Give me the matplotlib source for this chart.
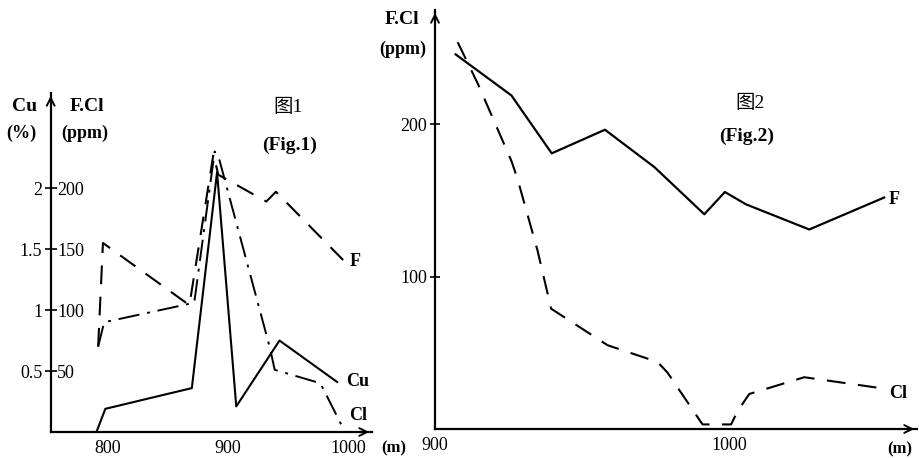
# 两个剖面图：图1 Cu, F, Cl 随深度变化；图2 F, Cl 随深度变化
import matplotlib
matplotlib.use("Agg")
import matplotlib.pyplot as plt

# ---- 数据 ----
# 图1
cu_x = [790.6, 798, 870, 891, 907, 943, 991]
cu_y = [0.0, 0.19, 0.36, 2.13, 0.21, 0.75, 0.41]          # Cu (%)
f1_x = [792, 796, 868, 888, 892, 932, 940, 996]
f1_y = [70, 155, 104, 228, 211, 189, 197, 141]           # F (ppm)
cl1_x = [792, 797, 872, 889, 893, 935, 939, 977, 997]
cl1_y = [70, 90, 106, 230, 223, 69, 51, 40, 1]           # Cl (ppm)

# 图2
f2_x = [907, 926, 939.7, 957.8, 974.6, 991.6, 998.6, 1005.8, 1027.3, 1052.8]
f2_y = [246, 219, 181, 196.5, 172, 141, 155.6, 147.5, 131, 152]
cl2_x = [907.7, 914.5, 926, 928.1, 934.9, 939.5, 958.7, 975.7, 979.1,
         991, 1000.7, 1003, 1006.9, 1025.6, 1052.8]
cl2_y = [254, 227, 176, 164, 117, 79, 55, 44, 37, 3, 3, 12, 23, 34, 26.5]

ppm_ticks1 = [50, 100, 150, 200]
cu_ticks1 = [0.5, 1, 1.5, 2]
cu_labels1 = ["0.5", "1", "1.5", "2"]
x_ticks1 = [800, 900, 1000]
ppm_ticks2 = [100, 200]
x_ticks2 = [900, 1000]

W, H = 919, 458
serif = ["Liberation Serif", "Noto Sans CJK SC", "DejaVu Sans"]
plt.rcParams["font.family"] = serif

fig = plt.figure(figsize=(W / 100, H / 100), dpi=100)


def box(left, top, right, bottom):
    return [left / W, 1 - bottom / H, (right - left) / W, (bottom - top) / H]


def px(x, y):
    return x / W, 1 - y / H


def label(x, y, s, size=13, bold=True):
    fig.text(*px(x, y), s, fontsize=size, fontweight="bold" if bold else "normal",
             ha="center", va="center")


def style_axes(ax):
    for s in ["top", "right"]:
        ax.spines[s].set_visible(False)
    for s in ["left", "bottom"]:
        ax.spines[s].set_linewidth(1.6)
    ax.set_facecolor("none")
    ax.annotate("", xy=(1.0, 0), xytext=(0.97, 0), xycoords="axes fraction",
                arrowprops=dict(arrowstyle="->", lw=1.4, mutation_scale=14))
    ax.annotate("", xy=(0, 1.0), xytext=(0, 0.97), xycoords="axes fraction",
                arrowprops=dict(arrowstyle="->", lw=1.4, mutation_scale=14))


dash = (0, (9, 6))
dashdot = (0, (11, 4, 1.5, 4))

# ---- 图1 ----
ax1 = fig.add_axes(box(50.7, 93, 372, 432))
ax1.set_xlim(752.5, 1020)
ax1.set_ylim(0, 278)
style_axes(ax1)
ax1.plot(f1_x, f1_y, color="black", lw=1.5, linestyle=dash)
ax1.plot(cl1_x, cl1_y, color="black", lw=1.4, linestyle=dashdot)
ax1.set_yticks(ppm_ticks1, [str(v) for v in ppm_ticks1])
ax1.tick_params(axis="y", direction="inout", length=9, width=1.2, pad=-9,
                labelsize=13)
for lbl in ax1.get_yticklabels():
    lbl.set_ha("left")
ax1.set_xticks(x_ticks1, [str(v) for v in x_ticks1])
ax1.tick_params(axis="x", length=0, pad=6, labelsize=13)

ax1b = ax1.twinx()
ax1b.set_ylim(0, 2.78)
for s in ax1b.spines.values():
    s.set_visible(False)
ax1b.yaxis.set_ticks_position("left")
ax1b.yaxis.set_label_position("left")
ax1b.set_yticks(cu_ticks1, cu_labels1)
ax1b.tick_params(axis="y", length=0, pad=6, labelsize=13)
ax1b.plot(cu_x, cu_y, color="black", lw=1.5)

label(25, 107, "Cu", 14)
label(87, 107, "F.Cl", 14)
label(21, 133, "(%)", 13)
label(85, 133, "(ppm)", 13)
label(288, 107, "图1", 14, bold=False)
label(290, 145, "(Fig.1)", 14)
label(394, 448, "(m)", 12)
label(355, 262, "F", 13)
label(358, 382, "Cu", 13)
label(358, 415, "Cl", 13)

# ---- 图2 ----
ax2 = fig.add_axes(box(435, 10, 917, 429))
ax2.set_xlim(900, 900 + 482 / 2.94)
ax2.set_ylim(0, 419 / 1.523)
style_axes(ax2)
ax2.plot(f2_x, f2_y, color="black", lw=1.6)
ax2.plot(cl2_x, cl2_y, color="black", lw=1.5, linestyle=dash)
ax2.set_yticks(ppm_ticks2, [str(v) for v in ppm_ticks2])
ax2.tick_params(axis="y", direction="inout", length=7, width=1.2, pad=2,
                labelsize=13)
ax2.set_xticks(x_ticks2, [str(v) for v in x_ticks2])
ax2.tick_params(axis="x", length=0, pad=6, labelsize=13)

label(402, 19, "F.Cl", 14)
label(403, 49, "(ppm)", 13)
label(750, 103, "图2", 14, bold=False)
label(747, 136, "(Fig.2)", 14)
label(900, 449, "(m)", 12)
label(894, 200, "F", 13)
label(898, 393, "Cl", 13)

fig.savefig("out.png", dpi=100, facecolor="white")
